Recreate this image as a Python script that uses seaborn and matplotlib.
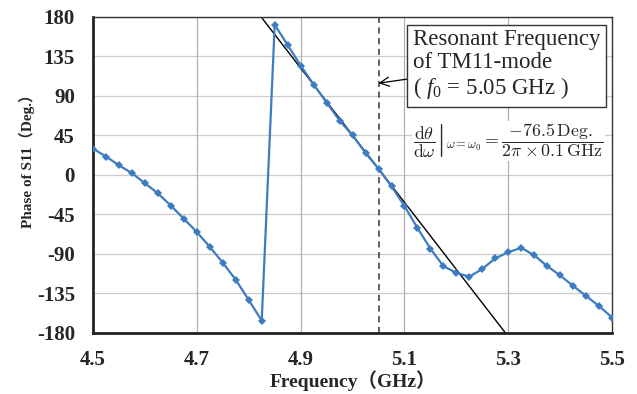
import numpy as np
import pandas as pd
import matplotlib
matplotlib.use("Agg")
import matplotlib.pyplot as plt
import seaborn as sns

freq = [4.5 + 0.025 * i for i in range(41)]
phase = [30, 21, 11, 2, -9.5, -21, -35, -50, -65, -82, -100, -119.5, -142.5, -166,
         171, 148, 124.5, 103, 82.5, 62, 45, 25, 7, -13, -35.5, -60.5, -84, -104,
         -111.5, -116, -107, -95, -88, -83, -91.5, -104, -114.5, -126.5, -138, -149.5, -162.5]
xticks = [4.5, 4.7, 4.9, 5.1, 5.3, 5.5]
yticks = [180, 135, 90, 45, 0, -45, -90, -135, -180]
f0 = 5.05
phase_f0 = 7
slope_deg_per_ghz = -76.5 / 0.1

df = pd.DataFrame({"freq": freq, "phase": phase})

sns.set_style("white")
plt.rcParams["font.family"] = ["Liberation Serif", "Noto Sans CJK JP"]
plt.rcParams["mathtext.fontset"] = "custom"
plt.rcParams["mathtext.rm"] = "Liberation Serif"
plt.rcParams["mathtext.it"] = "Liberation Serif:italic"
plt.rcParams["mathtext.bf"] = "Liberation Serif:bold"

fig = plt.figure(figsize=(6.37, 3.94), dpi=100)
ax = fig.add_axes([0.146, 0.155, 0.815, 0.802])

for y in yticks:
    ax.axhline(y, color="#cccccc", lw=0.9, zorder=0)
for x in xticks[1:-1]:
    ax.axvline(x, color="#b0b0b0", lw=0.9, zorder=0)

# tangent line
tx = np.array([4.5, 5.5])
ty = phase_f0 + slope_deg_per_ghz * (tx - f0)
ax.plot(tx, ty, color="black", lw=1.0, zorder=2)

ax.axvline(f0, color="#333333", lw=1.1, ls=(0, (4, 3)), zorder=2)

sns.lineplot(data=df, x="freq", y="phase", ax=ax, color="#3d7cc0", lw=1.6,
             marker="D", markersize=4.5, markeredgewidth=0, zorder=3)

ax.set_xlim(4.5, 5.5)
ax.set_ylim(-180, 180)
ax.set_xticks(xticks)
ax.set_yticks(yticks)
ax.set_xticklabels([f"{v:.1f}" for v in xticks], fontsize=15, fontweight="bold")
ax.set_yticklabels([str(v) for v in yticks], fontsize=15, fontweight="bold")
ax.tick_params(direction="in", length=5, width=1.5)
ax.tick_params(axis="x", pad=12)
ax.tick_params(axis="y", pad=13)

for s in ["left", "bottom"]:
    ax.spines[s].set_linewidth(2.0)
    ax.spines[s].set_color("#222222")
for s in ["top", "right"]:
    ax.spines[s].set_linewidth(1.0)
    ax.spines[s].set_color("#333333")

ax.set_xlabel("Frequency（GHz）", fontsize=14, fontweight="bold")
ax.set_ylabel("Phase of S11（Deg.）", fontsize=11, fontweight="bold")
ax.xaxis.set_label_coords(0.5, -0.118)
ax.yaxis.set_label_coords(-0.112, 0.555)

ax.annotate("Resonant Frequency\nof TM11-mode\n( $f_0$ = 5.05 GHz )",
            xy=(f0, 104.5), xytext=(5.116, 125.5),
            fontsize=16.5, ha="left", va="center", linespacing=1.12,
            bbox=dict(boxstyle="square,pad=0.25", fc="white", ec="#333333", lw=1.0),
            arrowprops=dict(arrowstyle="->", color="black", lw=0.9,
                            shrinkA=0, shrinkB=0),
            zorder=5)

ax.text(5.117, 39,
        r"$\left.\dfrac{\mathrm{d}\theta}{\mathrm{d}\omega}\right|_{\omega=\omega_0}"
        r" = \dfrac{-76.5\,\mathrm{Deg.}}{2\pi \times 0.1\,\mathrm{GHz}}$",
        fontsize=12.8, ha="left", va="center", math_fontfamily="cm",
        bbox=dict(boxstyle="square,pad=0.05", fc="white", ec="none"), zorder=5)

fig.savefig("out.png", dpi=100)
